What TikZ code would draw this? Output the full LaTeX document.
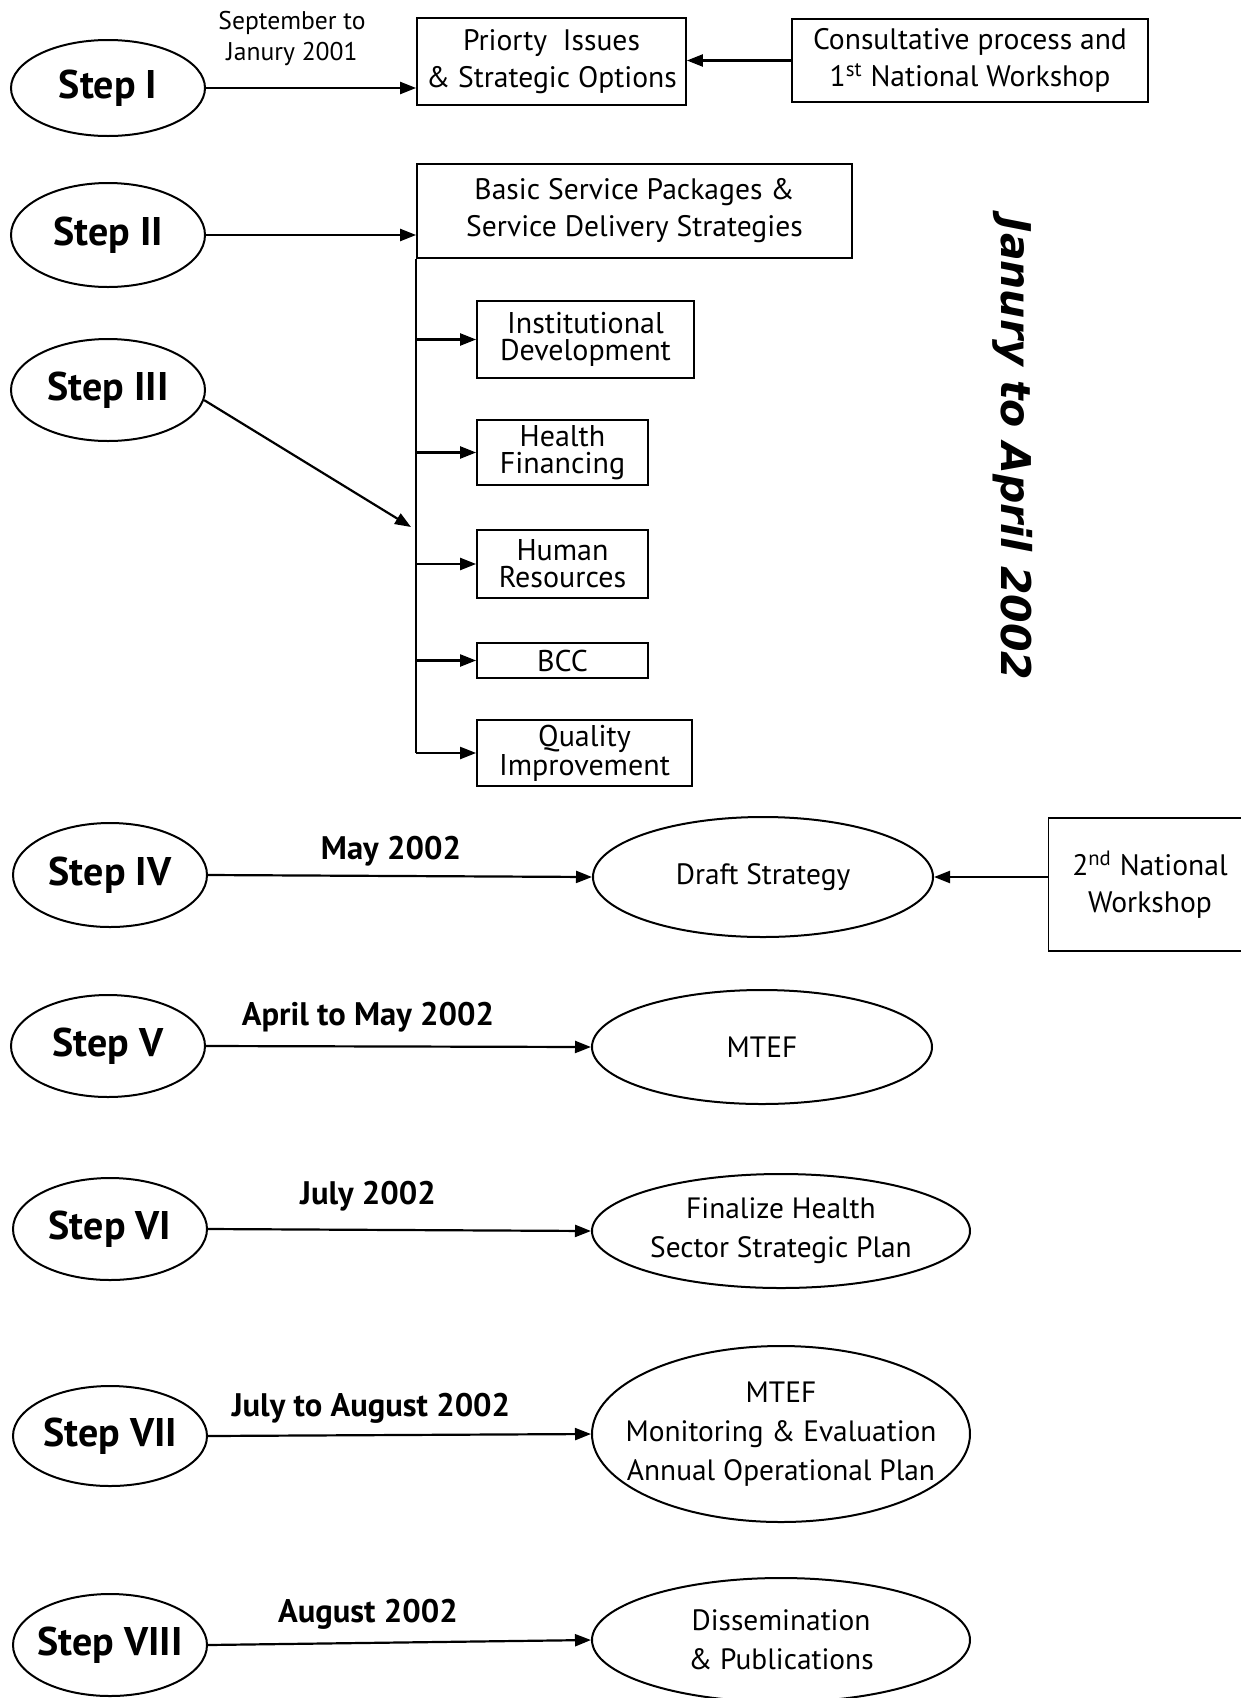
\documentclass[tikz,border=0pt]{standalone}
\usepackage{fontspec}
\setmainfont{PT Sans}
\newfontfamily\vfont{DejaVu Sans}
\usetikzlibrary{shapes.geometric,arrows.meta}
\begin{document}
\begin{tikzpicture}[x=0.5pt,y=-0.5pt,
 stepnode/.style={ellipse,draw,line width=1pt,minimum width=97pt,minimum height=51pt,inner sep=0pt},
 steptext/.style={font=\fontsize{20}{22}\selectfont\bfseries},
 goal/.style={ellipse,draw,line width=1pt,inner sep=0pt},
 gtext/.style={align=center,font=\fontsize{14.7}{19.5}\selectfont},
 box/.style={rectangle,draw,line width=0.9pt,inner sep=0pt,align=center,font=\fontsize{14.8}{18.5}\selectfont},
 sbox/.style={box,font=\fontsize{15}{13.5}\selectfont},
 datelab/.style={font=\fontsize{16.3}{18}\selectfont\bfseries},
 arr/.style={line width=1.1pt,-{Triangle[length=8pt,width=6pt]}}]
\useasboundingbox (0,0) rectangle (1241,1698);
% step ellipses
\node[stepnode,minimum height=48pt,label={[steptext]center:Step I}] (s1) at (108,88) {};
\node[stepnode,minimum height=52pt,label={[steptext]center:Step II}] (s2) at (108,235) {};
\node[stepnode,label={[steptext]center:Step III}] (s3) at (108,390) {};
\node[stepnode,minimum height=52pt,label={[steptext]center:Step IV}] (s4) at (110,875) {};
\node[stepnode,label={[steptext]center:Step V}] (s5) at (108,1046) {};
\node[stepnode,label={[steptext]center:Step VI}] (s6) at (110,1229) {};
\node[stepnode,minimum height=50pt,label={[steptext]center:Step VII}] (s7) at (110,1436) {};
\node[stepnode,label={[steptext]center:Step VIII}] (s8) at (110,1645) {};
% boxes
\node[box,minimum width=134.5pt,minimum height=43.5pt] (prio) at (551.5,61.5) {Priorty\ \ Issues\\\& Strategic Options};
\node[box,minimum width=178pt,minimum height=41.5pt] (cons) at (970,60.5) {Consultative process and\\1\textsuperscript{st} National Workshop};
\node[box,minimum width=217.5pt,minimum height=47pt] (basic) at (634.5,211) {Basic Service Packages \&\\Service Delivery Strategies};
\node[sbox,minimum width=108.5pt,minimum height=38.5pt] (inst) at (585.5,339.5) {Institutional\\Development};
\node[sbox,minimum width=85.5pt,minimum height=32.5pt] (hf) at (562.5,452.5) {Health\\Financing};
\node[sbox,minimum width=85.5pt,minimum height=34pt] (hr) at (562.5,564) {Human\\Resources};
\node[sbox,minimum width=85.5pt,minimum height=17.5pt] (bcc) at (562.5,660.5) {BCC};
\node[sbox,minimum width=107.5pt,minimum height=33pt] (qi) at (584.5,753) {Quality\\Improvement};
\node[box,minimum width=101.5pt,minimum height=66.5pt] (ws) at (1150,884.5) {2\textsuperscript{nd} National\\Workshop};
% goal ellipses
\node[goal,minimum width=170pt,minimum height=60pt,label={[gtext]center:Draft Strategy}] (draft) at (763,877) {};
\node[goal,minimum width=170pt,minimum height=57pt,label={[gtext]center:MTEF}] (mtef) at (762,1047) {};
\node[goal,minimum width=189pt,minimum height=57pt,label={[gtext]center:Finalize Health\\Sector Strategic Plan}] (fin) at (781,1231) {};
\node[goal,minimum width=189pt,minimum height=88pt,label={[gtext]center:MTEF\\Monitoring \& Evaluation\\Annual Operational Plan}] (me) at (781,1434) {};
\node[goal,minimum width=189pt,minimum height=62pt,label={[gtext]center:Dissemination\\\& Publications}] (dis) at (781,1640) {};
% labels
\node[align=center,font=\fontsize{12.8}{15.5}\selectfont] (l1) at (292,39) {September to\\Janury 2001};
\node[datelab] (l4) at (391,851) {May 2002};
\node[datelab] (l5) at (368,1017) {April to May 2002};
\node[datelab] (l6) at (368,1196) {July 2002};
\node[datelab] (l7) at (371,1408) {July to August 2002};
\node[datelab] (l8) at (368,1614) {August 2002};
\node[rotate=-90,font=\vfont\bfseries\itshape\fontsize{20.5}{22}\selectfont] (side) at (1013,449) {Janury to April 2002};
% connectors
\draw[arr] (s1.east) -- (s1.east -| prio.west);
\draw[arr] (cons.west) -- (cons.west -| prio.east);
\draw[arr] (s2.east) -- (s2.east -| basic.west);
\draw[line width=1.1pt] (basic.south west) -- (basic.south west |- qi.west);
\foreach \b in {inst,hf,hr,bcc,qi}{
  \draw[arr] (basic.south west |- \b.west) -- (\b.west);
}
\coordinate (s3end) at (411,527);
\draw[arr] (s3.-6) -- (s3end);
\draw[arr] (s4.east) -- (draft.west);
\draw[arr] (ws.west |- draft.east) -- (draft.east);
\draw[arr] (s5.east) -- (mtef.west);
\draw[arr] (s6.east) -- (fin.west);
\draw[arr] (s7.east) -- (me.west);
\draw[arr] (s8.east) -- (dis.west);
\end{tikzpicture}
\end{document}
